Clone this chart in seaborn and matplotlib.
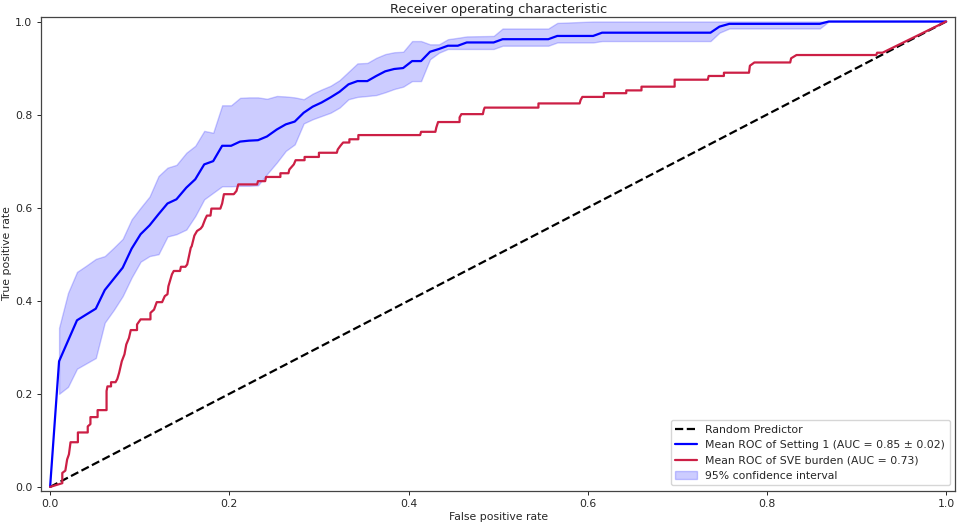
import numpy as np
import pandas as pd
import matplotlib.pyplot as plt
import seaborn as sns

# ----------------------------------------------------------------------------------------------
# Values
# ----------------------------------------------------------------------------------------------
# Mean ROC of setting 1 (false positive rate grid and mean true positive rate)
setting_fpr = [0.0, 0.010, 0.020, 0.030, 0.040, 0.051, 0.061, 0.071, 0.081, 0.091, 0.101, 0.111,
               0.121, 0.131, 0.141, 0.152, 0.162, 0.172, 0.182, 0.192, 0.202, 0.212, 0.222, 0.232,
               0.242, 0.253, 0.263, 0.273, 0.283, 0.293, 0.303, 0.313, 0.323, 0.333, 0.343, 0.354,
               0.364, 0.374, 0.384, 0.394, 0.404, 0.414, 0.424, 0.434, 0.444, 0.455, 0.465, 0.495,
               0.505, 0.556, 0.566, 0.606, 0.616, 0.737, 0.747, 0.758, 0.859, 0.869, 1.0]
setting_tpr = [0.0, 0.270, 0.314, 0.358, 0.370, 0.383, 0.423, 0.447, 0.471, 0.512, 0.543, 0.562,
               0.586, 0.609, 0.618, 0.643, 0.661, 0.693, 0.700, 0.733, 0.733, 0.742, 0.744, 0.745,
               0.753, 0.768, 0.779, 0.785, 0.804, 0.817, 0.826, 0.837, 0.849, 0.865, 0.872, 0.872,
               0.883, 0.893, 0.898, 0.900, 0.915, 0.915, 0.935, 0.941, 0.948, 0.948, 0.955, 0.955,
               0.962, 0.962, 0.969, 0.969, 0.976, 0.976, 0.989, 0.995, 0.995, 1.0, 1.0]

# 95% confidence band (same grid, starting at the second point)
band_lower = [0.200, 0.215, 0.254, 0.265, 0.277, 0.353, 0.380, 0.410, 0.450, 0.484, 0.496,
              0.500, 0.538, 0.543, 0.553, 0.582, 0.618, 0.632, 0.646, 0.646, 0.647, 0.647, 0.648,
              0.672, 0.697, 0.722, 0.736, 0.781, 0.790, 0.797, 0.804, 0.815, 0.833, 0.838, 0.840,
              0.842, 0.848, 0.855, 0.860, 0.872, 0.872, 0.919, 0.933, 0.941, 0.941, 0.941, 0.941,
              0.948, 0.948, 0.955, 0.955, 0.958, 0.958, 0.976, 0.985, 0.985, 1.0, 1.0]
band_upper = [0.342, 0.417, 0.462, 0.475, 0.490, 0.496, 0.514, 0.533, 0.575, 0.600, 0.624,
              0.668, 0.686, 0.692, 0.718, 0.733, 0.765, 0.761, 0.820, 0.820, 0.836, 0.837, 0.837,
              0.834, 0.840, 0.839, 0.837, 0.833, 0.845, 0.854, 0.862, 0.874, 0.892, 0.910, 0.911,
              0.922, 0.930, 0.934, 0.935, 0.958, 0.958, 0.951, 0.951, 0.962, 0.965, 0.968, 0.969,
              0.985, 0.985, 0.997, 1.0, 1.0, 1.0, 1.0, 1.0, 1.0, 1.0, 1.0]

# ROC of SVE burden (staircase vertices)
sve_fpr = [0.0, 0.005, 0.0136, 0.0136, 0.017, 0.019, 0.021, 0.0228, 0.031, 0.031, 0.042, 0.042,
           0.045, 0.045, 0.053, 0.053, 0.063, 0.063, 0.064, 0.068, 0.068, 0.073, 0.075, 0.077,
           0.080, 0.083, 0.085, 0.088, 0.090, 0.097, 0.097, 0.101, 0.112, 0.112, 0.116, 0.119,
           0.125, 0.128, 0.131, 0.132, 0.136, 0.138, 0.145, 0.146, 0.151, 0.153, 0.155, 0.157,
           0.158, 0.161, 0.164, 0.168, 0.170, 0.173, 0.175, 0.179, 0.180, 0.190, 0.192, 0.194,
           0.205, 0.208, 0.210, 0.231, 0.232, 0.240, 0.241, 0.257, 0.257, 0.266, 0.267, 0.272,
           0.274, 0.284, 0.284, 0.300, 0.300, 0.320, 0.321, 0.324, 0.327, 0.334, 0.334, 0.344,
           0.344, 0.413, 0.414, 0.430, 0.431, 0.433, 0.457, 0.457, 0.459, 0.483, 0.484, 0.485,
           0.545, 0.545, 0.591, 0.592, 0.594, 0.618, 0.618, 0.643, 0.643, 0.660, 0.660, 0.697,
           0.697, 0.734, 0.735, 0.752, 0.752, 0.780, 0.781, 0.786, 0.826, 0.827, 0.833, 0.922,
           0.923, 0.929, 1.0]
sve_tpr = [0.0, 0.003, 0.008, 0.030, 0.035, 0.059, 0.070, 0.096, 0.096, 0.117, 0.117, 0.130,
           0.135, 0.150, 0.150, 0.165, 0.165, 0.206, 0.216, 0.216, 0.225, 0.225, 0.232, 0.245,
           0.270, 0.285, 0.306, 0.320, 0.337, 0.337, 0.349, 0.360, 0.360, 0.374, 0.381, 0.397,
           0.397, 0.410, 0.414, 0.431, 0.457, 0.464, 0.464, 0.473, 0.473, 0.478, 0.496, 0.514,
           0.517, 0.540, 0.550, 0.555, 0.560, 0.575, 0.583, 0.583, 0.598, 0.598, 0.609, 0.629,
           0.629, 0.636, 0.650, 0.650, 0.657, 0.657, 0.666, 0.666, 0.674, 0.674, 0.682, 0.693,
           0.702, 0.702, 0.709, 0.709, 0.718, 0.718, 0.725, 0.733, 0.740, 0.740, 0.747, 0.747,
           0.756, 0.756, 0.763, 0.763, 0.772, 0.784, 0.784, 0.794, 0.801, 0.801, 0.810, 0.815,
           0.815, 0.824, 0.824, 0.831, 0.838, 0.838, 0.846, 0.846, 0.852, 0.852, 0.860, 0.860,
           0.875, 0.875, 0.883, 0.883, 0.890, 0.890, 0.905, 0.912, 0.912, 0.921, 0.928, 0.928,
           0.933, 0.933, 1.0]

# Chance diagonal
chance_fpr = [0.0, 1.0]
chance_tpr = [0.0, 1.0]

# ----------------------------------------------------------------------------------------------
# Plot
# ----------------------------------------------------------------------------------------------
sns.set_style("ticks")
plt.rcParams["font.family"] = ["DejaVu Sans"]

fig, ax = plt.subplots(figsize=(9.57, 5.27), dpi=100)
fig.subplots_adjust(left=0.043, right=0.998, bottom=0.069, top=0.968)

sns.lineplot(x=chance_fpr, y=chance_tpr, ax=ax, color="black", linestyle="--", linewidth=1.6,
             label="Random Predictor", estimator=None, sort=False)
sns.lineplot(x=setting_fpr, y=setting_tpr, ax=ax, color="blue", linewidth=1.6,
             label="Mean ROC of Setting 1 (AUC = 0.85 \u00b1 0.02)", estimator=None, sort=False)
sns.lineplot(x=sve_fpr, y=sve_tpr, ax=ax, color="#cc1f45", linewidth=1.6,
             label="Mean ROC of SVE burden (AUC = 0.73)", estimator=None, sort=False)
ax.fill_between(setting_fpr[1:], band_lower, band_upper, color="blue", alpha=0.2,
                label="95% confidence interval")

ax.set_xlim(-0.01, 1.01)
ax.set_ylim(-0.008, 1.01)
ax.set_xticks([0.0, 0.2, 0.4, 0.6, 0.8, 1.0])
ax.set_yticks([0.0, 0.2, 0.4, 0.6, 0.8, 1.0])
ax.tick_params(labelsize=7.8, length=2.8, width=0.7)
for spine in ax.spines.values():
    spine.set_linewidth(0.9)
    spine.set_color("#444444")

ax.set_xlabel("False positive rate", fontsize=7.8, labelpad=2)
ax.set_ylabel("True positive rate", fontsize=7.8, labelpad=2)
ax.set_title("Receiver operating characteristic", fontsize=9.4, pad=3)
ax.legend(loc="lower right", fontsize=7.8)

plt.savefig("out.png", dpi=100)
plt.close()
